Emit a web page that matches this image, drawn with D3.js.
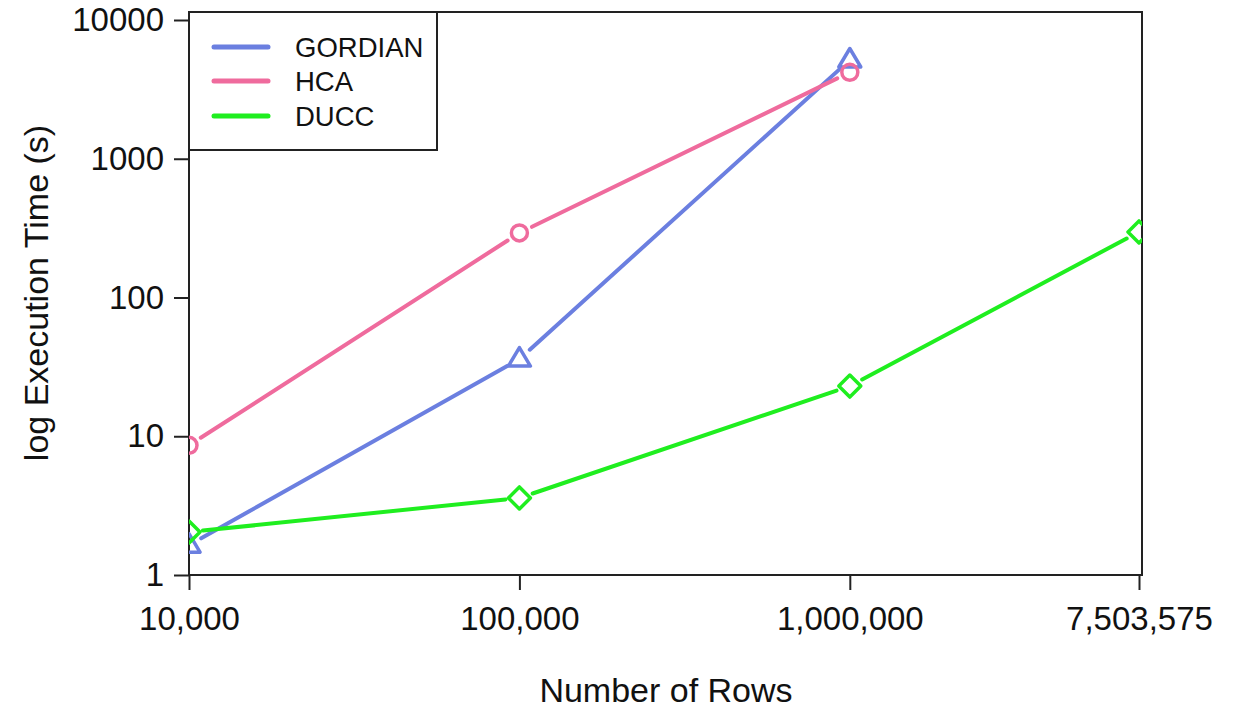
<!DOCTYPE html>
<html>
<head>
<meta charset="utf-8">
<script src="https://cdn.jsdelivr.net/npm/d3@7"></script>
<style>
  body { margin: 0; background: #fff; }
  svg { display: block; font-family: "Liberation Sans", Arial, sans-serif; }
  .axis text { fill: #111; font-size: 33px; }
  .axis path, .axis line { stroke: #222; stroke-width: 2; }
</style>
</head>
<body>
<svg width="1245" height="708"></svg>
<script>
// data
var rows = [10000, 100000, 1000000, 7503575];
var gordian = [1.64, 36, 5150];
var hca = [8.6, 292, 4200];
var ducc = [2.04, 3.59, 23, 297];
var yTicks = [1, 10, 100, 1000, 10000];
var seriesNames = ["GORDIAN", "HCA", "DUCC"];
var seriesColors = ["#6b7fe0", "#ef6b9d", "#1fee1f"];
var seriesShapes = ["triangle", "circle", "diamond"];

var svg = d3.select("svg");
var box = {left: 189, right: 1142, top: 12, bottom: 575};

var x = d3.scaleLog().domain([10000, 7503575]).range([189, 1139]);
var y = d3.scaleLog().domain([1, 10000]).range([575, 20]);

svg.append("defs").append("clipPath").attr("id", "plotclip")
    .append("rect")
    .attr("x", box.left).attr("y", box.top)
    .attr("width", box.right - box.left).attr("height", box.bottom - box.top);

// axes
var fmt = d3.format(",");
var xAxis = svg.append("g")
    .attr("class", "axis")
    .attr("transform", "translate(0," + box.bottom + ")")
    .call(d3.axisBottom(x).tickValues(rows).tickFormat(fmt).tickSize(15).tickPadding(17));
xAxis.select(".domain").remove();
xAxis.selectAll("text").attr("dy", "0.71em");

var yAxis = svg.append("g")
    .attr("class", "axis")
    .attr("transform", "translate(" + box.left + ",0)")
    .call(d3.axisLeft(y).tickValues(yTicks).tickFormat(d3.format("d")).tickSize(15).tickPadding(10));
yAxis.select(".domain").remove();

// plot box
svg.append("rect")
    .attr("x", box.left).attr("y", box.top)
    .attr("width", box.right - box.left).attr("height", box.bottom - box.top)
    .attr("fill", "none").attr("stroke", "#222").attr("stroke-width", 2);

// axis titles
svg.append("text")
    .attr("x", 666).attr("y", 702)
    .attr("text-anchor", "middle")
    .style("font-size", "34px").attr("fill", "#111")
    .text("Number of Rows");

svg.append("text")
    .attr("transform", "translate(48,293) rotate(-90)")
    .attr("text-anchor", "middle")
    .style("font-size", "34px").attr("fill", "#111")
    .text("log Execution Time (s)");

function markerPath(shape) {
    if (shape === "triangle") return "M0,-11.5 L11,7 L-11,7 Z";
    if (shape === "diamond") return "M0,-11 L11,0 L0,11 L-11,0 Z";
    return d3.arc()({innerRadius: 0, outerRadius: 8, startAngle: 0, endAngle: 2 * Math.PI});
}

var plot = svg.append("g").attr("clip-path", "url(#plotclip)");
var gap = 14;

[gordian, hca, ducc].forEach(function(vals, i) {
    var pts = vals.map(function(v, j) {
        return [x(rows[j]), y(v)];
    });
    var g = plot.append("g");
    // R type="b": segments stop short of the points
    for (var k = 0; k < pts.length - 1; k++) {
        var a = pts[k], b = pts[k + 1];
        var dx = b[0] - a[0], dy = b[1] - a[1];
        var len = Math.sqrt(dx * dx + dy * dy);
        var ux = dx / len, uy = dy / len;
        g.append("line")
            .attr("x1", a[0] + ux * gap).attr("y1", a[1] + uy * gap)
            .attr("x2", b[0] - ux * gap).attr("y2", b[1] - uy * gap)
            .attr("stroke", seriesColors[i]).attr("stroke-width", 4)
            .attr("stroke-linecap", "round");
    }
    g.selectAll("path")
        .data(pts)
        .enter().append("path")
        .attr("transform", function(d) { return "translate(" + d[0] + "," + d[1] + ")"; })
        .attr("d", markerPath(seriesShapes[i]))
        .attr("fill", "none")
        .attr("stroke", seriesColors[i])
        .attr("stroke-width", 3.5)
        .attr("stroke-linejoin", "round");
});

// legend
var legend = svg.append("g");
legend.append("rect")
    .attr("x", box.left).attr("y", box.top)
    .attr("width", 248).attr("height", 138)
    .attr("fill", "#fff").attr("stroke", "#222").attr("stroke-width", 2);

var legendRows = [47, 81, 116];
seriesNames.forEach(function(name, i) {
    legend.append("line")
        .attr("x1", 214).attr("x2", 268)
        .attr("y1", legendRows[i]).attr("y2", legendRows[i])
        .attr("stroke", seriesColors[i]).attr("stroke-width", 5)
        .attr("stroke-linecap", "round");
    legend.append("text")
        .attr("x", 295).attr("y", legendRows[i])
        .attr("dy", "0.36em")
        .style("font-size", "27.5px").attr("fill", "#111")
        .text(name);
});
</script>
</body>
</html>
